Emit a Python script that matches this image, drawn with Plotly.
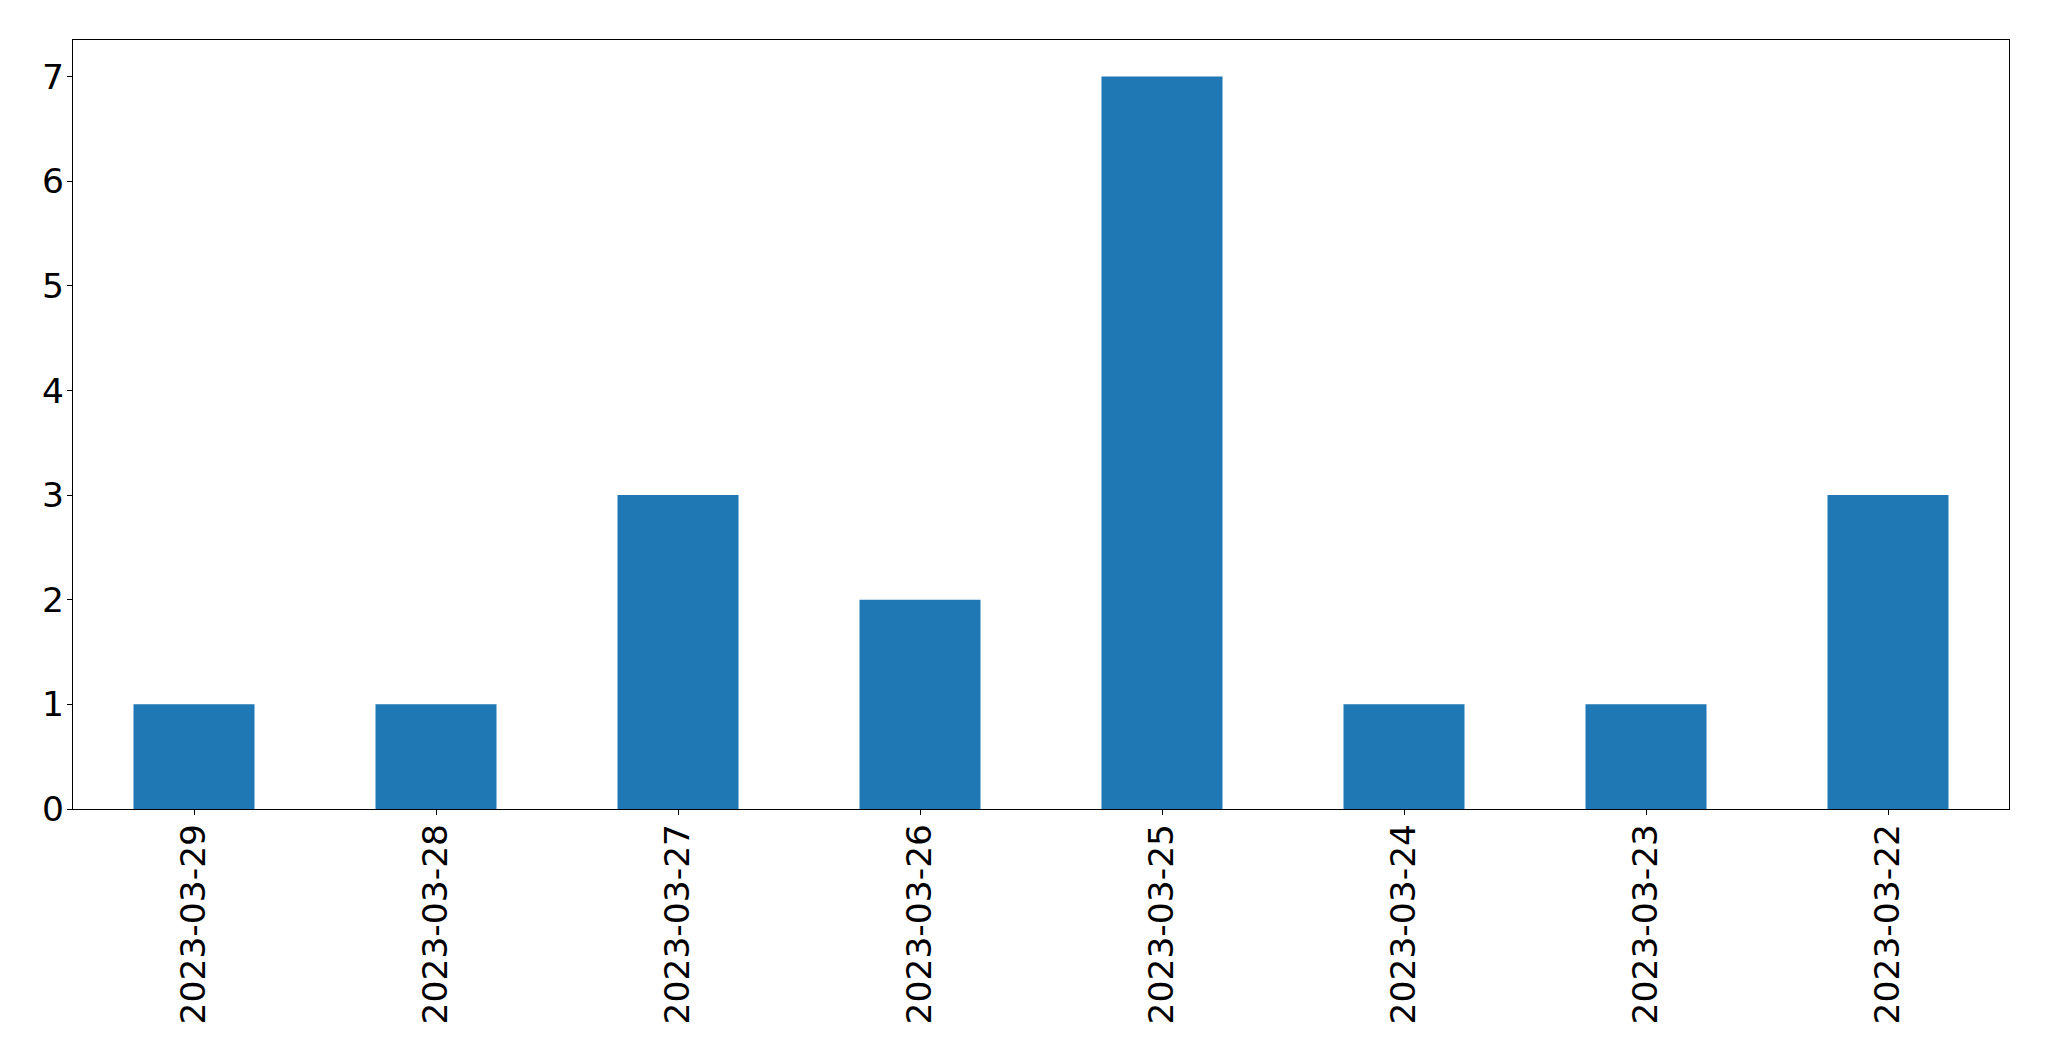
import plotly.graph_objects as go

dates = ["2023-03-29", "2023-03-28", "2023-03-27", "2023-03-26",
         "2023-03-25", "2023-03-24", "2023-03-23", "2023-03-22"]
counts = [1, 1, 3, 2, 7, 1, 1, 3]
y_ticks = [0, 1, 2, 3, 4, 5, 6, 7]

fig = go.Figure(go.Bar(x=dates, y=counts, width=0.5, marker_color="#1f77b4",
                       marker_line_width=0))

font = dict(family="DejaVu Sans", size=34.5, color="black")
fig.update_layout(
    width=2041, height=1053,
    margin=dict(l=64.5, r=39.5, t=31.5, b=252, autoexpand=False),
    paper_bgcolor="white", plot_bgcolor="white",
    showlegend=False, font=font,
)
fig.update_xaxes(type="category", range=[-0.5, 7.5], tickangle=-90,
                 showline=True, linecolor="black", linewidth=1.3, mirror=True,
                 ticks="outside", ticklen=5, tickwidth=1.3, tickcolor="black",
                 showgrid=False, zeroline=False, tickfont=font,
                 ticklabelstandoff=-5)
fig.update_yaxes(range=[0, 7.35], tickvals=y_ticks,
                 showline=True, linecolor="black", linewidth=1.3, mirror=True,
                 ticks="outside", ticklen=5, tickwidth=1.3, tickcolor="black",
                 showgrid=False, zeroline=False, tickfont=font,
                 ticklabelstandoff=-4)

fig.write_html("out.html")
